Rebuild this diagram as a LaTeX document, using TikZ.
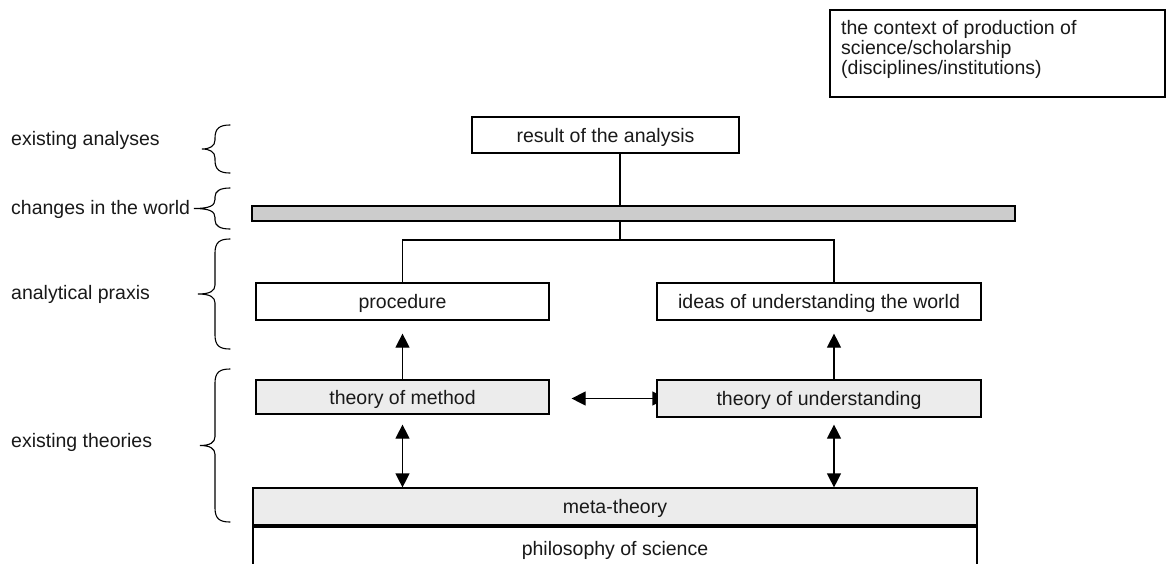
\documentclass[tikz,border=0pt]{standalone}
\usepackage{fontspec}
\setmainfont{Liberation Sans}
\usetikzlibrary{arrows.meta}
\pgfdeclarelayer{background}
\pgfsetlayers{background,main}

% left-hand curly brace: #1 top y, #2 bottom y, #3 tip x, #4 end radius
\newcommand\sidebrace[4]{%
  \pgfmathsetmacro\bmid{(#1+#2)/2}%
  \draw[braceline] (230,#1) .. controls (220,#1) and (215,{#1+3}) .. (215,{#1+#4})
    -- (215,{\bmid-9}) .. controls (215,{\bmid-3}) and (210,\bmid) .. (#3,\bmid)
    .. controls (210,\bmid) and (215,{\bmid+3}) .. (215,{\bmid+9})
    -- (215,{#2-#4}) .. controls (215,{#2-3}) and (220,#2) .. (230,#2);}

\begin{document}
\begin{tikzpicture}[x=1pt,y=-1pt,
  every node/.style={font=\fontsize{19.5}{19}\selectfont, text=black!90},
  boxplain/.style={draw, line width=1.2pt, inner sep=0pt, fill=white,
                   text height=15pt, text depth=1pt},
  boxgrey/.style={boxplain, fill=gray!15},
  boxbar/.style={boxplain, fill=gray!40},
  sidetext/.style={anchor=base west, inner sep=0pt},
  link/.style={line width=1.2pt},
  braceline/.style={line width=1.1pt, line cap=round},
  uparrow/.style={line width=1.2pt, -{Triangle[width=14pt,length=14pt]}},
  twoway/.style={line width=1.2pt, {Triangle[width=14pt,length=14pt]}-{Triangle[width=14pt,length=14pt]}},
]
\clip (0,0) rectangle (1166,563);

% context box, top right
\node[draw, line width=1.2pt, inner sep=0pt, minimum width=335pt, minimum height=87pt] (ctx) at (997.5,53.5) {};
\node[anchor=north west, inner sep=0pt, align=left] (ctxtext) at (841,20)
  {the context of production of\\[1pt]science/scholarship\\[1pt](disciplines/institutions)};

% main boxes
\node[boxplain, minimum width=267pt, minimum height=36pt] (result) at (605.5,135) {result of the analysis};
\node[boxbar, minimum width=763pt, minimum height=15pt, text height=0pt, text depth=0pt] (world) at (633.5,213.5) {};
\node[boxplain, minimum width=293pt, minimum height=37pt] (procedure) at (402.5,301.5) {procedure};
\node[boxplain, minimum width=324pt, minimum height=37pt] (ideas) at (819,301.5) {ideas of understanding the world};
\node[boxgrey, minimum width=293pt, minimum height=34pt] (tom) at (402.5,397) {theory of method};
\node[boxgrey, minimum width=324pt, minimum height=37pt] (tou) at (819,398.5) {theory of understanding};
\node[boxgrey, minimum width=724pt, minimum height=37pt] (meta) at (615,506.5) {meta-theory};
\node[boxplain, minimum width=724pt, minimum height=42pt] (phil) at (615,548) {philosophy of science};

% connector columns and junction
\coordinate (jx) at (620,0);
\coordinate (rcol) at (834,0);
\coordinate (split) at (620,240);

\draw[link] (result.south -| jx) -- (world.north -| jx);
\draw[link] (world.south -| split) -- (split);
\draw[link] (procedure.north) |- (split);
\draw[link] (split) -| (ideas.north -| rcol);

\draw[uparrow, shorten >=13pt] (tom.north) -- (procedure.south);
\draw[uparrow, shorten >=13pt] (tou.north -| rcol) -- (ideas.south -| rcol);

\draw[twoway, shorten <=10pt] (tom.south) -- (meta.north -| tom.south);
\draw[twoway, shorten <=7pt] (tou.south -| rcol) -- (meta.north -| rcol);

\begin{pgfonlayer}{background}
  \draw[twoway, shorten <=22pt, shorten >=-10pt] (tom.east |- tou.west) -- (tou.west);
\end{pgfonlayer}

% left labels with braces
\node[sidetext] (lana) at (11,145) {existing analyses};
\node[sidetext] (lchg) at (11,214) {changes in the world};
\node[sidetext] (lprx) at (11,299) {analytical praxis};
\node[sidetext] (lthe) at (11,447) {existing theories};

\sidebrace{125}{173}{202}{13}
\sidebrace{188}{229}{194}{9}
\sidebrace{239}{349}{198}{14}
\sidebrace{369}{522}{200}{14}
\end{tikzpicture}
\end{document}
